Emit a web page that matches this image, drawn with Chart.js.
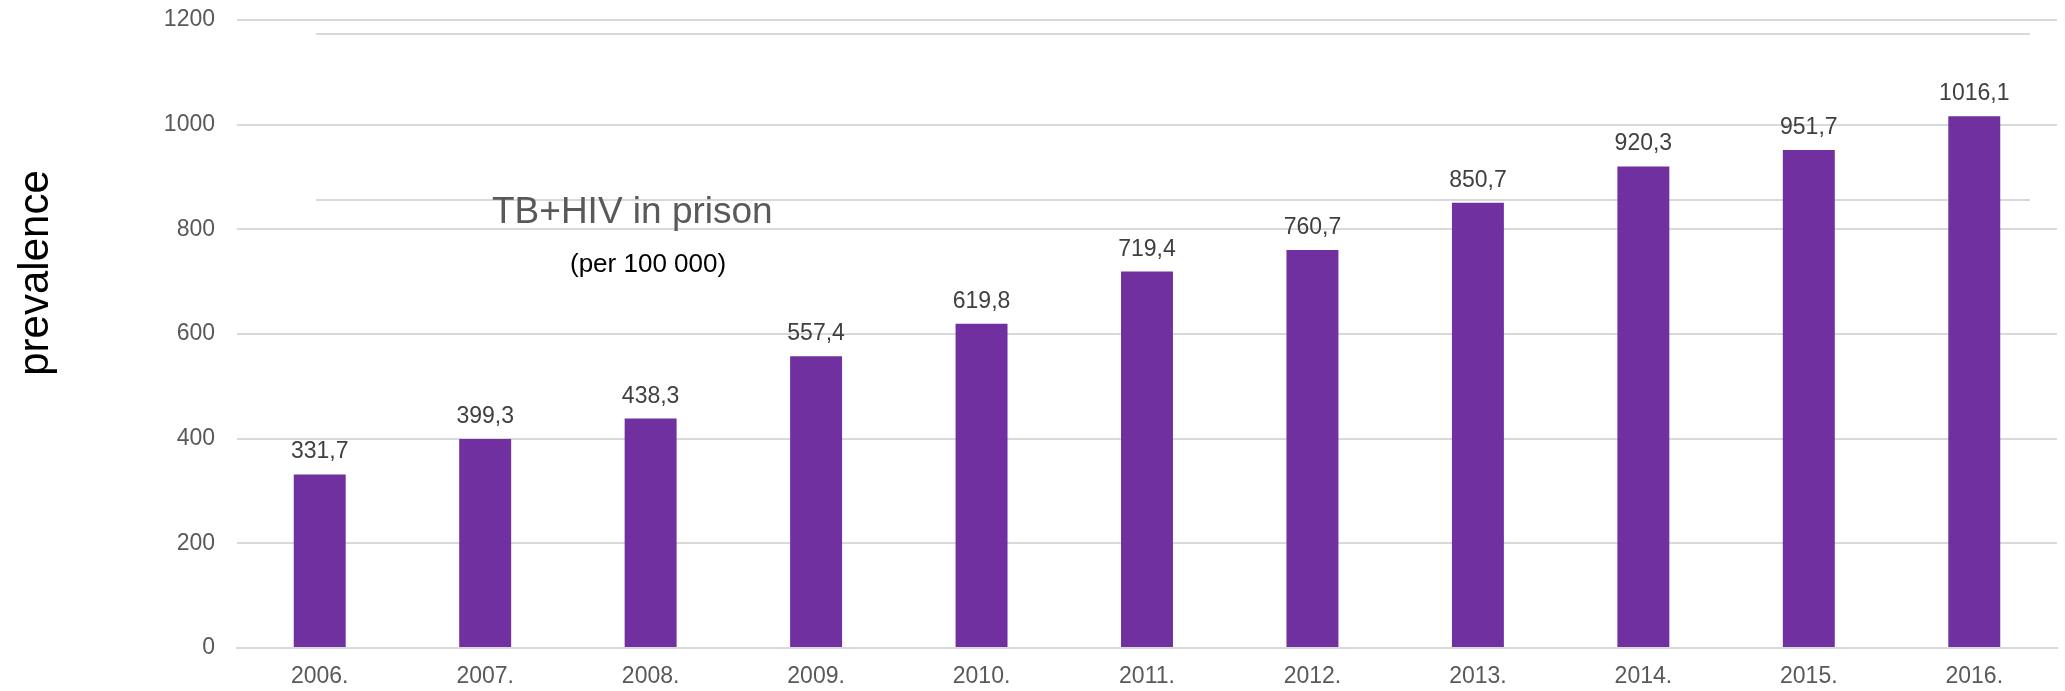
<!DOCTYPE html>
<html>
<head>
<meta charset="utf-8">
<title>TB+HIV in prison</title>
<script src="https://cdn.jsdelivr.net/npm/chart.js@4.4.1/dist/chart.umd.min.js"></script>
<style>
  html, body { margin: 0; padding: 0; background: #fff; }
  #wrap { width: 2065px; height: 691px; }
</style>
</head>
<body>
<div id="wrap"><canvas id="prisonChart"></canvas></div>
<script>
// data
const years = ["2006.", "2007.", "2008.", "2009.", "2010.", "2011.", "2012.", "2013.", "2014.", "2015.", "2016."];
const prevalence = [331.7, 399.3, 438.3, 557.4, 619.8, 719.4, 760.7, 850.7, 920.3, 951.7, 1016.1];
const yTicks = [0, 200, 400, 600, 800, 1000, 1200];

const FONT = "'Liberation Sans', Arial, sans-serif";
const GRID = "#d9d9d9";

// value labels on top of the bars (comma decimals like the original)
const barLabels = {
    id: "barLabels",
    afterDatasetsDraw(chart) {
        const ctx = chart.ctx;
        const meta = chart.getDatasetMeta(0);
        ctx.save();
        ctx.font = "23px " + FONT;
        ctx.fillStyle = "#404040";
        ctx.textAlign = "center";
        ctx.textBaseline = "alphabetic";
        meta.data.forEach((bar, i) => {
            const txt = prevalence[i].toFixed(1).replace(".", ",");
            ctx.fillText(txt, bar.x, bar.y - 16);
        });
        ctx.restore();
    }
};

// slide leftovers: title box lines, the title text, the rotated axis name
const slideText = {
    id: "slideText",
    beforeDatasetsDraw(chart) {
        const ctx = chart.ctx;
        ctx.save();
        ctx.strokeStyle = GRID;
        ctx.lineWidth = 2;
        ctx.beginPath();
        ctx.moveTo(316, 34); ctx.lineTo(2030, 34);
        ctx.moveTo(316, 200); ctx.lineTo(2030, 200);
        ctx.stroke();
        ctx.restore();
    },
    afterDraw(chart) {
        const ctx = chart.ctx;
        ctx.save();
        ctx.textAlign = "left";
        ctx.textBaseline = "alphabetic";
        ctx.fillStyle = "#595959";
        ctx.font = "37px " + FONT;
        ctx.fillText("TB+HIV in prison", 492, 223);
        ctx.fillStyle = "#000";
        ctx.font = "26px " + FONT;
        ctx.fillText("(per 100 000)", 570, 272);

        ctx.translate(36, 273);
        ctx.rotate(-Math.PI / 2);
        ctx.textAlign = "center";
        ctx.textBaseline = "middle";
        ctx.font = "42px " + FONT;
        ctx.fillText("prevalence", 0, 0);
        ctx.restore();
    }
};

new Chart(document.getElementById("prisonChart"), {
    type: "bar",
    data: {
        labels: years,
        datasets: [{
            label: "prevalence",
            data: prevalence,
            backgroundColor: "#7030a0",
            borderWidth: 0,
            barPercentage: 0.314,
            categoryPercentage: 1.0
        }]
    },
    options: {
        responsive: true,
        maintainAspectRatio: false,
        animation: false,
        layout: { padding: { top: 20, right: 8, left: 0, bottom: 0 } },
        plugins: {
            legend: { display: false },
            tooltip: { enabled: false }
        },
        scales: {
            x: {
                grid: { display: false, drawTicks: false },
                border: { display: true, color: GRID, width: 2 },
                ticks: {
                    color: "#595959",
                    font: { family: FONT, size: 23 },
                    padding: 15,
                    maxRotation: 0
                },
                afterFit(scale) { scale.height = 43; }
            },
            y: {
                min: 0,
                max: 1200,
                afterBuildTicks(scale) {
                    scale.ticks = yTicks.map(v => ({ value: v }));
                },
                grid: {
                    color: GRID,
                    lineWidth: 2,
                    drawTicks: true,
                    tickLength: 22,
                    tickColor: "rgba(0,0,0,0)"
                },
                border: { display: false },
                ticks: {
                    color: "#595959",
                    font: { family: FONT, size: 23 },
                    padding: 0,
                    callback: (v) => String(v)
                },
                afterFit(scale) { scale.width = 237; }
            }
        }
    },
    plugins: [slideText, barLabels]
});
</script>
</body>
</html>
